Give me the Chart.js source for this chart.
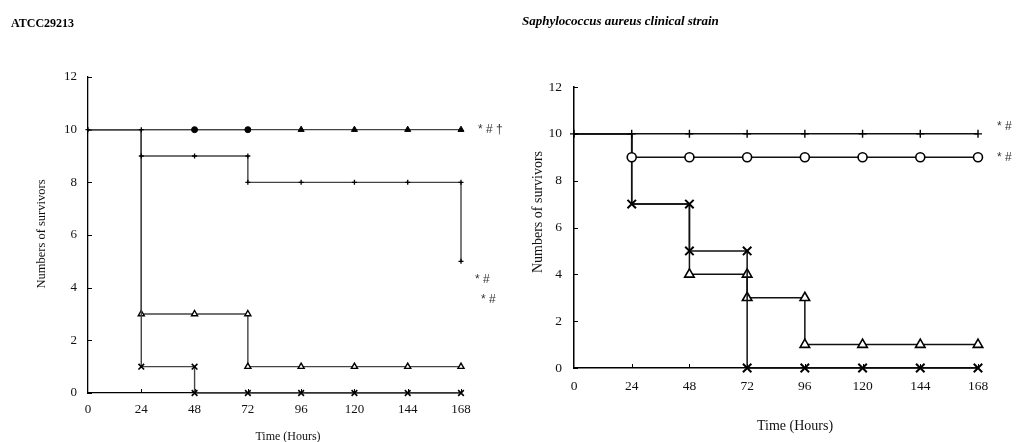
<!DOCTYPE html>
<html><head><meta charset="utf-8">
<script src="https://cdn.jsdelivr.net/npm/chart.js@4/dist/chart.umd.min.js"></script>
<style>
html,body{margin:0;padding:0;background:#fff;}
#wrap{position:relative;width:1016px;height:442px;overflow:hidden;background:#fff;}
.panel{position:absolute;top:0;width:508px;height:442px;}
#p1{left:0}#p2{left:508px}
.ttl{position:absolute;font-family:"Liberation Serif","Times New Roman",serif;font-weight:bold;color:#000;white-space:nowrap;line-height:1;}
</style></head><body>
<div id="wrap">
<div class="panel" id="p1"><canvas id="c1" width="508" height="442"></canvas></div>
<div class="panel" id="p2"><canvas id="c2" width="508" height="442"></canvas></div>
<div class="ttl" style="left:11px;top:17px;font-size:12px;">ATCC29213</div>
<div class="ttl" style="left:522px;top:14px;font-size:13px;font-style:italic;">Saphylococcus aureus clinical strain</div>
</div>
<script>
// ---- data ----
const times = [0, 24, 48, 72, 96, 120, 144, 168];
const timeTicks = [0, 24, 48, 72, 96, 120, 144, 168];
const yTicks = [0, 2, 4, 6, 8, 10, 12];

// Left panel: ATCC29213 (survivors at each time)
const leftPlus = [10, 9, 9, 8, 8, 8, 8, 5];
const leftFilledCircle = [10, 10, 10, 10];
const leftFilledTriangle = [10, 10, 10, 10, 10, 10, 10, 10];
const leftCross = [10, 1, 0, 0, 0, 0, 0, 0];
const leftOpenTriangle = [10, 3, 3, 1, 1, 1, 1, 1];
const leftNotes = ['* # \u2020', '* #', '* #'];
const leftNoteValues = [10, 4.3, 3.55];

// Right panel: clinical strain
const rightPlus = [10, 10, 10, 10, 10, 10, 10, 10];
const rightOpenCircle = [10, 9, 9, 9, 9, 9, 9, 9];
const rightCross = [10, 7, 5, 0, 0, 0, 0, 0];
const rightOpenTriangle = [10, 7, 4, 3, 1, 1, 1, 1];
const rightNotes = ['* #', '* #'];
const rightNoteValues = [10.3, 9];

const xTitleText = 'Time (Hours)';
const yTitleText = 'Numbers of survivors';

// ---- helpers ----
function steps(values) {
  const pts = [];
  values.forEach((v, i) => {
    const t = times[i];
    if (i > 0 && v !== values[i - 1]) pts.push({x: t, y: values[i - 1]});
    pts.push({x: t, y: v});
  });
  return pts;
}
function hiddenBy(chart, di, raw) {
  if (!raw) return false;
  for (let k = 0; k < di; k++) {
    if (chart.data.datasets[k].data.some(p => p.x === raw.x && p.y === raw.y)) return true;
  }
  return false;
}
function ds(values, style, r, fill, color, lw, pbw) {
  return {
    data: steps(values),
    showLine: true,
    clip: false,
    borderColor: color,
    borderWidth: lw,
    pointStyle: style,
    pointRadius: ctx => hiddenBy(ctx.chart, ctx.datasetIndex, ctx.raw) ? 0 : r,
    pointBackgroundColor: fill,
    pointBorderColor: '#000',
    pointBorderWidth: pbw,
    pointHoverRadius: 0
  };
}

const decor = {
  id: 'decor',
  beforeDatasetsDraw(chart, args, o) {
    const {ctx, chartArea: a, scales: {x, y}} = chart;
    ctx.save();
    ctx.strokeStyle = '#000';
    ctx.lineWidth = 1;
    ctx.beginPath();
    y.ticks.forEach(t => {
      const p = Math.round(y.getPixelForValue(t.value)) + 0.5;
      ctx.moveTo(a.left, p); ctx.lineTo(a.left + o.tick, p);
    });
    x.ticks.forEach(t => {
      if (t.value === 0) return;
      const p = Math.round(x.getPixelForValue(t.value)) + 0.5;
      ctx.moveTo(p, a.bottom); ctx.lineTo(p, a.bottom - o.tick);
    });
    ctx.stroke();
    ctx.restore();
  },
  afterDraw(chart, args, o) {
    const {ctx, chartArea: a, scales: {y}} = chart;
    ctx.save();
    ctx.fillStyle = '#111';
    ctx.textBaseline = 'middle';
    ctx.font = o.xTitle.size + 'px "Liberation Serif", serif';
    ctx.textAlign = 'center';
    ctx.fillText(xTitleText, o.xTitle.x, o.xTitle.y);
    ctx.save();
    ctx.translate(o.yTitle.x, o.yTitle.y);
    ctx.rotate(-Math.PI / 2);
    ctx.font = o.yTitle.size + 'px "Liberation Serif", serif';
    ctx.fillText(yTitleText, 0, 0);
    ctx.restore();
    ctx.textAlign = 'left';
    ctx.fillStyle = '#333';
    ctx.font = '12px "Liberation Sans", sans-serif';
    o.notes.forEach((s, i) => {
      ctx.fillText(s, a.right + o.noteDx[i], y.getPixelForValue(o.noteValues[i]));
    });
    ctx.restore();
  }
};

function makeOptions(p) {
  return {
    responsive: false,
    animation: false,
    events: [],
    layout: {padding: {left: 0, top: p.top, right: p.right, bottom: 0}},
    plugins: {
      legend: {display: false},
      tooltip: {enabled: false},
      decor: p.decor
    },
    scales: {
      x: {
        type: 'linear', min: 0, max: 168,
        afterBuildTicks: s => { s.ticks = timeTicks.map(v => ({value: v})); },
        afterFit: s => { s.height = p.xh; },
        grid: {display: true, drawOnChartArea: false, drawTicks: false},
        border: {display: true, color: '#000', width: p.axisW},
        ticks: {padding: p.xpad, color: '#111', font: {family: '"Liberation Serif", serif', size: p.fs}, maxRotation: 0}
      },
      y: {
        type: 'linear', min: 0, max: 12,
        afterBuildTicks: s => { s.ticks = yTicks.map(v => ({value: v})); },
        afterFit: s => { s.width = p.yw; },
        grid: {display: true, drawOnChartArea: false, drawTicks: false},
        border: {display: true, color: '#000', width: p.axisW},
        ticks: {padding: p.ypad, color: '#111', font: {family: '"Liberation Serif", serif', size: p.fs}}
      }
    }
  };
}

const lc = '#444';
new Chart(document.getElementById('c1'), {
  type: 'scatter',
  data: {datasets: [
    ds(leftPlus, 'cross', 2.5, '#000', lc, 1.4, 1.3),
    ds(leftFilledCircle, 'circle', 3, '#000', lc, 1.4, 1),
    ds(leftFilledTriangle, 'triangle', 3.5, '#000', lc, 1.4, 1),
    ds(leftCross, 'crossRot', 4, '#000', lc, 1.4, 1.6),
    ds(leftOpenTriangle, 'triangle', 3.5, '#fff', lc, 1.4, 1.4)
  ]},
  options: makeOptions({
    top: 77, right: 47, xh: 49, yw: 88, xpad: 9, ypad: 11, fs: 13, axisW: 1.3,
    decor: {tick: 4, xTitle: {x: 288, y: 437, size: 12}, yTitle: {x: 42, y: 234, size: 12.5},
      notes: leftNotes, noteValues: leftNoteValues, noteDx: [17, 14, 20]}
  }),
  plugins: [decor]
});

const rc = '#111';
new Chart(document.getElementById('c2'), {
  type: 'scatter',
  data: {datasets: [
    ds(rightPlus, 'cross', 4, '#000', rc, 1.5, 1.4),
    ds(rightOpenCircle, 'circle', 4.5, '#fff', rc, 1.5, 1.6),
    ds(rightCross, 'crossRot', 6, '#000', rc, 1.5, 2),
    ds(rightOpenTriangle, 'triangle', 5.5, '#fff', rc, 1.5, 1.6)
  ]},
  options: makeOptions({
    top: 87, right: 38, xh: 74, yw: 66, xpad: 10, ypad: 12, fs: 13.5, axisW: 1.5,
    decor: {tick: 4, xTitle: {x: 287, y: 426, size: 14}, yTitle: {x: 30, y: 212, size: 14},
      notes: rightNotes, noteValues: rightNoteValues, noteDx: [19, 19]}
  }),
  plugins: [decor]
});
</script>
</body></html>
